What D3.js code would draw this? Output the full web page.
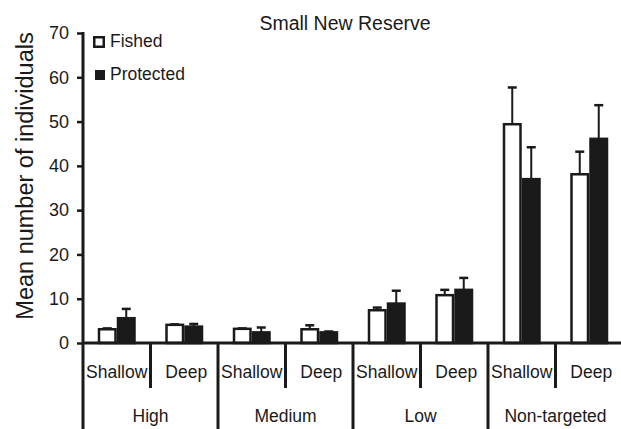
<!DOCTYPE html>
<html>
<head>
<meta charset="utf-8">
<script src="https://cdn.jsdelivr.net/npm/d3@7"></script>
<style>
  body { margin: 0; background: #fff; }
  text { font-family: "Liberation Sans", Arial, sans-serif; fill: #1a1a1a; }
</style>
</head>
<body>
<script>
(function() {

    const width = 621;
    const height = 429;

    // data
    const groups = ["High", "Medium", "Low", "Non-targeted"];
    const depths = ["Shallow", "Deep"];
    const series = ["Fished", "Protected"];
    // order: High Shallow, High Deep, Medium Shallow, ...
    const fishedMean = [3.1, 4.1, 3.2, 3.1, 7.4, 10.8, 49.4, 38.1];
    const fishedErr = [3.3, 4.2, 3.3, 4.0, 8.0, 12.0, 57.7, 43.2];
    const protectedMean = [5.6, 3.7, 2.4, 2.4, 8.9, 12.0, 37.0, 46.1];
    const protectedErr = [7.7, 4.3, 3.5, 2.6, 11.8, 14.7, 44.2, 53.7];
    const yTicks = [0, 10, 20, 30, 40, 50, 60, 70];

    const ink = "#1a1a1a";

    let slots = [];
    groups.forEach(g => depths.forEach(d => slots.push(g + "|" + d)));

    let svg = d3.select("body").append("svg")
        .attr("width", width)
        .attr("height", height);

    let x = d3.scaleBand()
        .domain(slots)
        .range([83, 623]);

    let xg = d3.scaleBand()
        .domain(groups)
        .range([83, 623]);

    let xs = d3.scaleBand()
        .domain(series)
        .range([0, 38]);

    let y = d3.scaleLinear()
        .domain([0, 70])
        .range([343, 33]);

    // title
    svg.append("text")
        .attr("x", 345)
        .attr("y", 30)
        .attr("text-anchor", "middle")
        .style("font-size", "19.5px")
        .text("Small New Reserve");

    // y axis label
    svg.append("text")
        .attr("transform", "translate(33,176) rotate(-90)")
        .attr("text-anchor", "middle")
        .style("font-size", "23.5px")
        .text("Mean number of individuals");

    // bars
    let rows = slots.map((s, i) => ({
        slot: s,
        vals: [
            {k: "Fished", m: fishedMean[i], e: fishedErr[i]},
            {k: "Protected", m: protectedMean[i], e: protectedErr[i]}
        ]
    }));

    let off = (x.bandwidth() - 38) / 2;

    let bar = svg.selectAll("g.slot")
        .data(rows)
        .enter()
        .append("g")
        .attr("class", "slot")
        .attr("transform", d => "translate(" + (x(d.slot) + off) + ",0)");

    let item = bar.selectAll("g")
        .data(d => d.vals)
        .enter()
        .append("g");

    // error bars (upper only)
    item.append("line")
        .attr("x1", d => xs(d.k) + xs.bandwidth() / 2)
        .attr("x2", d => xs(d.k) + xs.bandwidth() / 2)
        .attr("y1", d => y(d.m))
        .attr("y2", d => y(d.e))
        .attr("stroke", ink)
        .attr("stroke-width", 2);

    item.append("line")
        .attr("x1", d => xs(d.k) + xs.bandwidth() / 2 - 4.5)
        .attr("x2", d => xs(d.k) + xs.bandwidth() / 2 + 4.5)
        .attr("y1", d => y(d.e))
        .attr("y2", d => y(d.e))
        .attr("stroke", ink)
        .attr("stroke-width", 2.5);

    item.append("rect")
        .attr("x", d => xs(d.k) + 1.25)
        .attr("width", xs.bandwidth() - 2.5)
        .attr("y", d => y(d.m))
        .attr("height", d => y(0) - y(d.m))
        .attr("fill", d => d.k === "Fished" ? "#fff" : ink)
        .attr("stroke", ink)
        .attr("stroke-width", 2.5);

    // y axis
    let yAxis = svg.append("g")
        .attr("transform", "translate(83,0)")
        .call(d3.axisLeft(y).tickValues(yTicks).tickSize(6).tickPadding(8));
    yAxis.select(".domain").remove();
    yAxis.selectAll(".tick line").attr("stroke", ink).attr("stroke-width", 2.5);
    yAxis.selectAll(".tick text")
        .style("font-size", "18px")
        .style("font-family", "'Liberation Sans', Arial, sans-serif")
        .attr("fill", ink);

    svg.append("line")
        .attr("x1", 83).attr("x2", 83)
        .attr("y1", 32).attr("y2", height)
        .attr("stroke", ink).attr("stroke-width", 3);

    // x axis baseline
    svg.append("line")
        .attr("x1", 83).attr("x2", width)
        .attr("y1", y(0)).attr("y2", y(0))
        .attr("stroke", ink).attr("stroke-width", 3);

    // sub-category separators and labels
    svg.selectAll("line.sub")
        .data(slots.filter((s, i) => i % 2 === 0))
        .enter()
        .append("line")
        .attr("class", "sub")
        .attr("x1", d => x(d) + x.bandwidth())
        .attr("x2", d => x(d) + x.bandwidth())
        .attr("y1", y(0))
        .attr("y2", 388)
        .attr("stroke", ink).attr("stroke-width", 3);

    svg.selectAll("text.sub")
        .data(slots)
        .enter()
        .append("text")
        .attr("class", "sub")
        .attr("x", d => x(d) + x.bandwidth() / 2 + (d.endsWith("Deep") ? 2 : 0))
        .attr("y", 378)
        .attr("text-anchor", "middle")
        .style("font-size", "17.5px")
        .text(d => d.split("|")[1]);

    // group separators and labels
    svg.selectAll("line.grp")
        .data(groups.slice(1))
        .enter()
        .append("line")
        .attr("class", "grp")
        .attr("x1", d => xg(d))
        .attr("x2", d => xg(d))
        .attr("y1", y(0))
        .attr("y2", height)
        .attr("stroke", ink).attr("stroke-width", 3);

    svg.selectAll("text.grp")
        .data(groups)
        .enter()
        .append("text")
        .attr("class", "grp")
        .attr("x", d => xg(d) + xg.bandwidth() / 2)
        .attr("y", 422)
        .attr("text-anchor", "middle")
        .style("font-size", "17.5px")
        .text(d => d);

    // legend
    let legend = svg.selectAll("g.legend")
        .data(series)
        .enter()
        .append("g")
        .attr("class", "legend")
        .attr("transform", (d, i) => "translate(93," + (36 + i * 33) + ")");

    legend.append("rect")
        .attr("x", (d, i) => i === 0 ? 1.25 : 2)
        .attr("y", (d, i) => i === 0 ? 1.25 : 1)
        .attr("width", (d, i) => i === 0 ? 9.5 : 10)
        .attr("height", (d, i) => i === 0 ? 9.5 : 10)
        .attr("fill", (d, i) => i === 0 ? "#fff" : ink)
        .attr("stroke", ink)
        .attr("stroke-width", (d, i) => i === 0 ? 2.5 : 0);

    legend.append("text")
        .attr("x", 17)
        .attr("y", 11)
        .style("font-size", "17.5px")
        .text(d => d);

})();
</script>
</body>
</html>
